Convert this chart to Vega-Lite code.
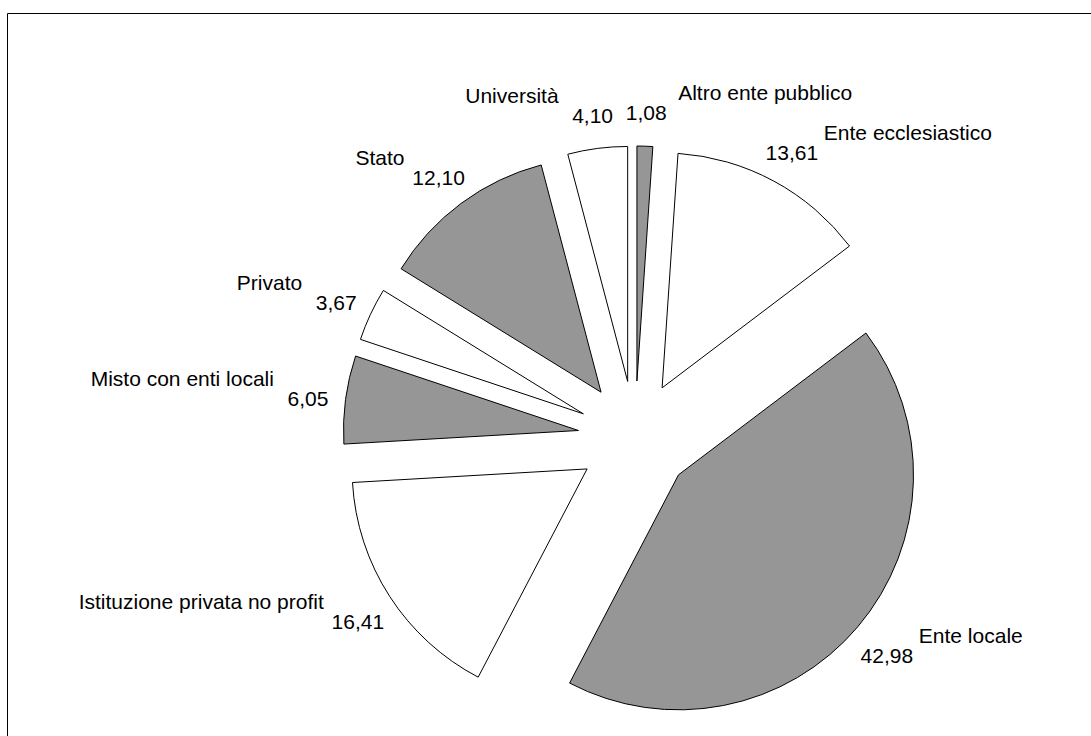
{
  "$schema": "https://vega.github.io/schema/vega-lite/v6.json",
  "width": 1085,
  "height": 724,
  "autosize": {"type": "none"},
  "padding": {"left": 7, "top": 13, "right": -1, "bottom": -1},
  "background": "white",
  "config": {
    "view": {"stroke": "#000000", "strokeWidth": 1},
    "text": {"font": "Liberation Sans", "fontSize": 21, "color": "#000000"}
  },
  "data": {
    "values": [
      {"categoria": "Altro ente pubblico", "valore": 1.08, "ordine": 1},
      {"categoria": "Ente ecclesiastico", "valore": 13.61, "ordine": 2},
      {"categoria": "Ente locale", "valore": 42.98, "ordine": 3},
      {"categoria": "Istituzione privata no profit", "valore": 16.41, "ordine": 4},
      {"categoria": "Misto con enti locali", "valore": 6.05, "ordine": 5},
      {"categoria": "Privato", "valore": 3.67, "ordine": 6},
      {"categoria": "Stato", "valore": 12.10, "ordine": 7},
      {"categoria": "Università", "valore": 4.10, "ordine": 8}
    ]
  },
  "transform": [
    {"window": [{"op": "sum", "field": "valore", "as": "fine"}], "sort": [{"field": "ordine"}], "frame": [null, 0]},
    {"calculate": "datum.fine - datum.valore", "as": "inizio"},
    {"calculate": "PI * (datum.inizio + datum.fine) / 100", "as": "medio"},
    {"calculate": "0.2426 * sin(datum.medio)", "as": "ex"},
    {"calculate": "0.2426 * cos(datum.medio)", "as": "ey"},
    {"calculate": "1.404 * sin(datum.medio)", "as": "lx"},
    {"calculate": "1.404 * cos(datum.medio)", "as": "ly"},
    {"calculate": "replace(format(datum.valore, '.2f'), '.', ',')", "as": "etichetta"}
  ],
  "layer": [
    {
      "mark": {"type": "arc", "radius": 235, "stroke": "#000000", "strokeWidth": 1},
      "encoding": {
        "x": {"field": "ex", "type": "quantitative", "stack": null, "axis": null, "scale": {"domain": [-2.6723, 1.9447], "nice": false, "zero": false}},
        "y": {"field": "ey", "type": "quantitative", "stack": null, "axis": null, "scale": {"domain": [-1.2723, 1.8085], "nice": false, "zero": false}},
        "theta": {"field": "inizio", "type": "quantitative", "stack": null, "scale": {"domain": [0, 100]}},
        "theta2": {"field": "fine"},
        "color": {
          "field": "categoria",
          "type": "nominal",
          "legend": null,
          "scale": {
            "domain": ["Altro ente pubblico", "Ente ecclesiastico", "Ente locale", "Istituzione privata no profit", "Misto con enti locali", "Privato", "Stato", "Università"],
            "range": ["#969696", "#ffffff", "#969696", "#ffffff", "#969696", "#ffffff", "#969696", "#ffffff"]
          }
        }
      }
    },
    {
      "mark": {"type": "text", "align": "center", "baseline": "middle", "dy": 6},
      "encoding": {
        "x": {"field": "lx", "type": "quantitative", "stack": null},
        "y": {"field": "ly", "type": "quantitative", "stack": null},
        "text": {"field": "etichetta", "type": "nominal"}
      }
    },
    {
      "transform": [{"filter": "datum.lx < 0"}],
      "mark": {"type": "text", "align": "right", "baseline": "middle", "dx": -34, "dy": -14},
      "encoding": {
        "x": {"field": "lx", "type": "quantitative", "stack": null},
        "y": {"field": "ly", "type": "quantitative", "stack": null},
        "text": {"field": "categoria", "type": "nominal"}
      }
    },
    {
      "transform": [{"filter": "datum.lx >= 0"}],
      "mark": {"type": "text", "align": "left", "baseline": "middle", "dx": 32, "dy": -14},
      "encoding": {
        "x": {"field": "lx", "type": "quantitative", "stack": null},
        "y": {"field": "ly", "type": "quantitative", "stack": null},
        "text": {"field": "categoria", "type": "nominal"}
      }
    }
  ]
}
